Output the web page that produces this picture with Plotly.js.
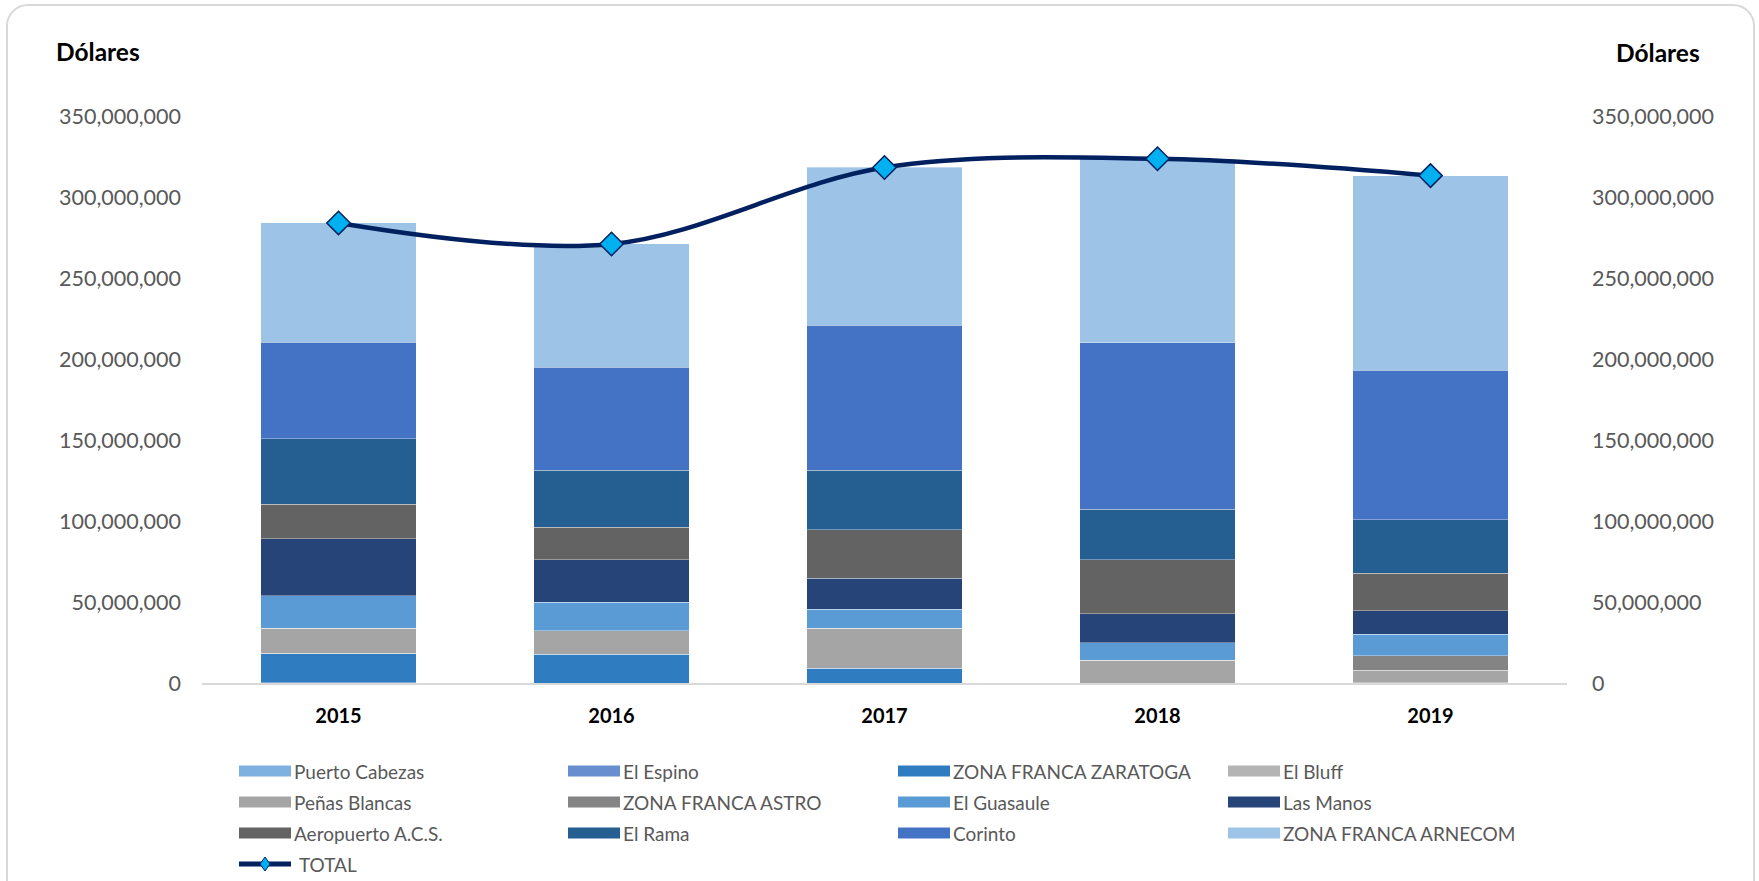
<!DOCTYPE html>
<html>
<head>
<meta charset="utf-8">
<script src="https://cdn.plot.ly/plotly-3.0.1.min.js"></script>
<style>
  html, body { margin:0; padding:0; width:1759px; height:881px; overflow:hidden; background:#fff; }
  #chart { position:absolute; left:0; top:0; width:1759px; height:881px; }
  #frame { position:absolute; left:6px; top:4px; width:1745px; height:900px; border:2px solid #D9D9D9; border-radius:22px; pointer-events:none; }
</style>
</head>
<body>
<div id="chart"></div>
<div id="frame"></div>
<script>
// ---- Data (US dollars) ----
const years = ['2015', '2016', '2017', '2018', '2019'];
const seriesNames = ['Puerto Cabezas', 'El Espino', 'ZONA FRANCA ZARATOGA', 'El Bluff',
  'Peñas Blancas', 'ZONA FRANCA ASTRO', 'El Guasaule', 'Las Manos',
  'Aeropuerto A.C.S.', 'El Rama', 'Corinto', 'ZONA FRANCA ARNECOM'];
const puertoCabezas = [200000, 0, 0, 0, 0];
const elEspino      = [0, 0, 0, 0, 0];
const zaratoga      = [17800000, 17900000, 9200000, 0, 0];
const elBluff       = [400000, 0, 0, 0, 300000];
const penasBlancas  = [15500000, 14400000, 24700000, 14200000, 7600000];
const astro         = [0, 0, 0, 0, 8800000];
const guasaule      = [20000000, 17400000, 11700000, 10700000, 13400000];
const lasManos      = [35000000, 26500000, 19000000, 17800000, 14600000];
const aeropuerto    = [21500000, 20000000, 30000000, 33300000, 23000000];
const elRama        = [40500000, 35000000, 36800000, 31300000, 33100000];
const corinto       = [59500000, 63700000, 89400000, 102700000, 92400000];
const arnecom       = [73700000, 76300000, 97700000, 113600000, 120000000];
const total         = [284000000, 271000000, 318200000, 323600000, 313200000];
const tickVals  = [0, 50000000, 100000000, 150000000, 200000000, 250000000, 300000000, 350000000];
const tickTexts = ['0', '50,000,000', '100,000,000', '150,000,000', '200,000,000', '250,000,000', '300,000,000', '350,000,000'];

// ---- Styles ----
const seriesValues = [puertoCabezas, elEspino, zaratoga, elBluff, penasBlancas, astro,
  guasaule, lasManos, aeropuerto, elRama, corinto, arnecom];
const colors = ['#7FB1E0', '#698ED0', '#307CC1', '#B4B4B4', '#A5A5A5', '#848484',
  '#5B9BD5', '#264478', '#636363', '#255E91', '#4472C4', '#9DC3E6'];
const FONT = 'Lato, "Open Sans", sans-serif';

const traces = seriesNames.map((name, i) => ({
  type: 'bar', name: name, x: years, y: seriesValues[i],
  marker: { color: colors[i], line: { color: 'rgba(255,255,255,0.35)', width: 1 } },
  hoverinfo: 'skip', showlegend: false
}));
traces.push({
  type: 'scatter', mode: 'lines+markers', name: 'TOTAL', x: years, y: total, yaxis: 'y2',
  line: { color: '#002060', width: 4.5, shape: 'spline', smoothing: 1 },
  marker: { symbol: 'diamond', size: 18, color: '#00B0F0', line: { color: '#002060', width: 1.5 } },
  hoverinfo: 'skip', showlegend: false
});

// Plot geometry (pixels)
const W = 1759, H = 881;
const L = 202, R = 192, T = 116, B = 198;
const pw = W - L - R, ph = H - T - B;
const px2x = p => (p - L) / pw;
const py2y = p => (H - B - p) / ph;

// Custom legend built from names/colors
const shapes = [];
const annotations = [];
const colX = [239, 568, 898, 1228];
const rowY = [771, 802, 833, 864];
seriesNames.forEach((name, i) => {
  const c = i % 4, r = Math.floor(i / 4);
  shapes.push({ type: 'rect', xref: 'paper', yref: 'paper',
    x0: px2x(colX[c]), x1: px2x(colX[c] + 52), y0: py2y(rowY[r] + 5.5), y1: py2y(rowY[r] - 5.5),
    fillcolor: colors[i], line: { width: 0 } });
  annotations.push({ xref: 'paper', yref: 'paper', x: px2x(colX[c] + 53), y: py2y(rowY[r]),
    xanchor: 'left', yanchor: 'middle', showarrow: false, text: name,
    font: { family: FONT, size: 19, color: '#595959' } });
});
// TOTAL legend entry
shapes.push({ type: 'line', xref: 'paper', yref: 'paper',
  x0: px2x(colX[0]), x1: px2x(colX[0] + 52), y0: py2y(rowY[3]), y1: py2y(rowY[3]),
  line: { color: '#002060', width: 5 } });
const dx = 5 / pw, dy = 7 / ph, cx = px2x(colX[0] + 26), cy = py2y(rowY[3]);
shapes.push({ type: 'path', xref: 'paper', yref: 'paper',
  path: `M ${cx} ${cy + dy} L ${cx + dx} ${cy} L ${cx} ${cy - dy} L ${cx - dx} ${cy} Z`,
  fillcolor: '#00B0F0', line: { color: '#002060', width: 1 } });
annotations.push({ xref: 'paper', yref: 'paper', x: px2x(colX[0] + 58), y: py2y(rowY[3]),
  xanchor: 'left', yanchor: 'middle', showarrow: false, text: 'TOTAL',
  font: { family: FONT, size: 19, color: '#595959' } });
// Axis titles
annotations.push({ xref: 'paper', yref: 'paper', x: px2x(54), y: py2y(51),
  xanchor: 'left', yanchor: 'middle', showarrow: false, text: '<b>Dólares</b>',
  font: { family: FONT, size: 24.5, color: '#000000' } });
annotations.push({ xref: 'paper', yref: 'paper', x: px2x(1702), y: py2y(52),
  xanchor: 'right', yanchor: 'middle', showarrow: false, text: '<b>Dólares</b>',
  font: { family: FONT, size: 24.5, color: '#000000' } });

const layout = {
  width: W, height: H,
  margin: { l: L, r: R, t: T, b: B, pad: 0 },
  paper_bgcolor: 'rgba(0,0,0,0)', plot_bgcolor: '#ffffff',
  barmode: 'stack', bargap: 0.43,
  showlegend: false,
  font: { family: FONT, color: '#595959' },
  xaxis: {
    type: 'category', showgrid: false, zeroline: false,
    showline: true, linecolor: '#D9D9D9', linewidth: 2,
    ticks: '', ticklabelstandoff: 14,
    tickfont: { family: FONT, size: 20, color: '#000000', weight: 'bold' }
  },
  yaxis: {
    range: [0, 350000000], showgrid: false, zeroline: false, showline: false,
    tickmode: 'array', tickvals: tickVals, ticktext: tickTexts,
    ticks: '', ticklabelstandoff: 20,
    tickfont: { family: FONT, size: 21.5, color: '#595959' }
  },
  yaxis2: {
    range: [0, 350000000], overlaying: 'y', side: 'right',
    showgrid: false, zeroline: false, showline: false,
    tickmode: 'array', tickvals: tickVals, ticktext: tickTexts,
    ticks: '', ticklabelstandoff: 24,
    tickfont: { family: FONT, size: 21.5, color: '#595959' }
  },
  shapes: shapes,
  annotations: annotations
};

Plotly.newPlot('chart', traces, layout, { staticPlot: true, displayModeBar: false });
</script>
</body>
</html>
